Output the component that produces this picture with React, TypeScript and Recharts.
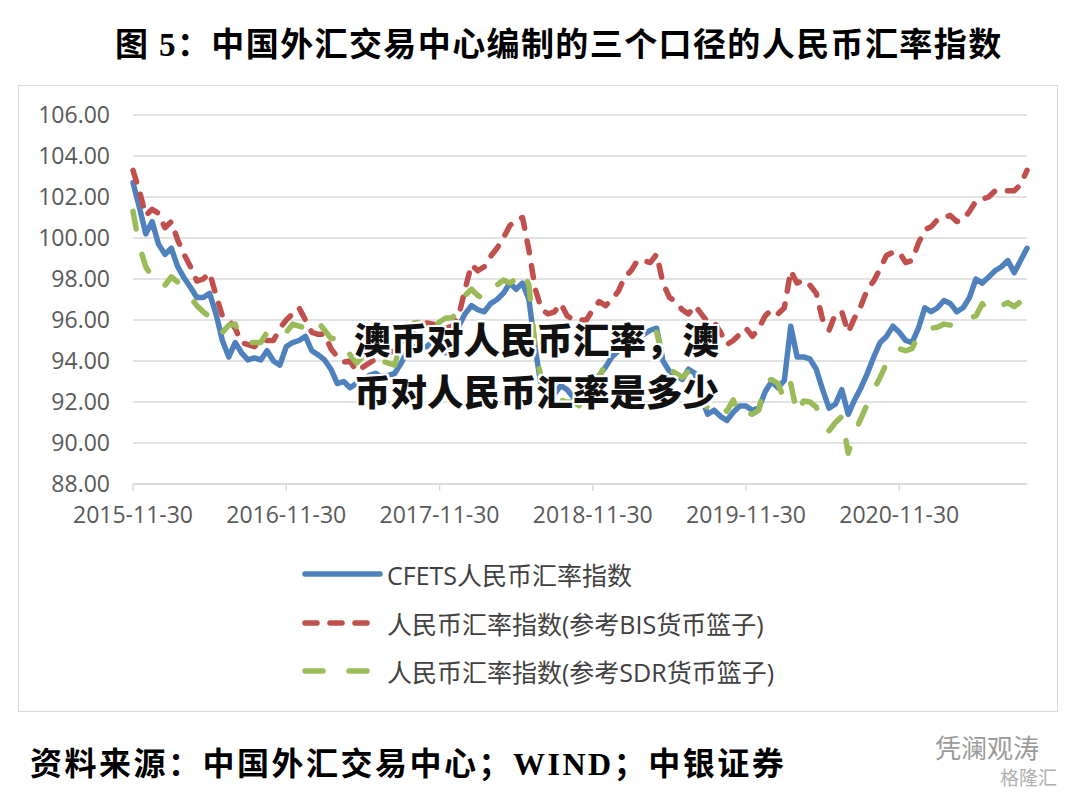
import React from "react";
import { LineChart, Line, XAxis, YAxis, CartesianGrid } from "recharts";

// semi-monthly observation dates
const dates = [
  "2015-11-30", "2015-12-15", "2015-12-31",
  "2016-01-15", "2016-01-31", "2016-02-15", "2016-02-29", "2016-03-15", "2016-03-31",
  "2016-04-15", "2016-04-30", "2016-05-15", "2016-05-31", "2016-06-15", "2016-06-30",
  "2016-07-15", "2016-07-31", "2016-08-15", "2016-08-31", "2016-09-15", "2016-09-30",
  "2016-10-15", "2016-10-31", "2016-11-15", "2016-11-30", "2016-12-15", "2016-12-31",
  "2017-01-15", "2017-01-31", "2017-02-15", "2017-02-28", "2017-03-15", "2017-03-31",
  "2017-04-15", "2017-04-30", "2017-05-15", "2017-05-31", "2017-06-15", "2017-06-30",
  "2017-07-15", "2017-07-31", "2017-08-15", "2017-08-31", "2017-09-15", "2017-09-30",
  "2017-10-15", "2017-10-31", "2017-11-15", "2017-11-30", "2017-12-15", "2017-12-31",
  "2018-01-15", "2018-01-31", "2018-02-15", "2018-02-28", "2018-03-15", "2018-03-31",
  "2018-04-15", "2018-04-30", "2018-05-15", "2018-05-31", "2018-06-15", "2018-06-30",
  "2018-07-15", "2018-07-31", "2018-08-15", "2018-08-31", "2018-09-15", "2018-09-30",
  "2018-10-15", "2018-10-31", "2018-11-15", "2018-11-30", "2018-12-15", "2018-12-31",
  "2019-01-15", "2019-01-31", "2019-02-15", "2019-02-28", "2019-03-15", "2019-03-31",
  "2019-04-15", "2019-04-30", "2019-05-15", "2019-05-31", "2019-06-15", "2019-06-30",
  "2019-07-15", "2019-07-31", "2019-08-15", "2019-08-31", "2019-09-15", "2019-09-30",
  "2019-10-15", "2019-10-31", "2019-11-15", "2019-11-30", "2019-12-15", "2019-12-31",
  "2020-01-15", "2020-01-31", "2020-02-15", "2020-02-29", "2020-03-15", "2020-03-31",
  "2020-04-15", "2020-04-30", "2020-05-15", "2020-05-31", "2020-06-15", "2020-06-30",
  "2020-07-15", "2020-07-31", "2020-08-15", "2020-08-31", "2020-09-15", "2020-09-30",
  "2020-10-15", "2020-10-31", "2020-11-15", "2020-11-30", "2020-12-15", "2020-12-31",
  "2021-01-15", "2021-01-31", "2021-02-15", "2021-02-28", "2021-03-15", "2021-03-31",
  "2021-04-15", "2021-04-30", "2021-05-15", "2021-05-31", "2021-06-15", "2021-06-30",
  "2021-07-15", "2021-07-31", "2021-08-15", "2021-08-31", "2021-09-15", "2021-09-30",
];

// CFETS人民币汇率指数
const cfets = [
  102.7, 101.5, 100.2, 100.8, 99.7, 99.2, 99.5, 98.6, 98.05, 97.6,
  97.1, 97.1, 97.3, 96.3, 95.0, 94.2, 94.9, 94.4, 94.05, 94.15,
  94.05, 94.5, 94.0, 93.8, 94.7, 94.9, 95.0, 95.2, 94.5, 94.3,
  94.05, 93.6, 92.9, 93.0, 92.7, 92.9, 93.0, 93.3, 93.4, 93.2,
  93.3, 93.4, 93.9, 94.5, 94.7, 94.7, 94.7, 95.0, 94.8, 94.4,
  95.0, 95.7, 96.3, 96.7, 96.5, 96.4, 96.8, 97.0, 97.3, 97.8,
  97.5, 97.8, 97.0, 94.6, 92.6, 93.1, 92.4, 92.8, 92.6, 92.2,
  92.2, 92.1, 92.6, 93.3, 93.7, 94.2, 94.5, 94.8, 95.0, 95.2,
  95.3, 95.5, 95.6, 94.0, 93.5, 93.3, 93.1, 93.6, 93.4, 92.2,
  91.4, 91.6, 91.3, 91.1, 91.5, 91.8, 91.8, 91.6, 91.7, 92.5,
  93.0, 92.7, 93.05, 95.7, 94.2, 94.2, 94.1, 93.6, 92.6, 91.7,
  91.9, 92.6, 91.4, 92.1, 92.7, 93.4, 94.2, 94.9, 95.2, 95.7,
  95.4, 95.0, 94.9, 95.6, 96.6, 96.4, 96.6, 96.95, 96.8, 96.4,
  96.6, 97.1, 98.0, 97.8, 98.1, 98.4, 98.6, 98.9, 98.3, 98.9,
  99.5,
];

// 人民币汇率指数(参考BIS货币篮子)
const bis = [
  103.3, 102.3, 101.1, 101.4, 101.2, 100.5, 100.8, 99.9, 99.2, 98.6,
  97.9, 98.0, 98.3, 97.2, 96.2, 96.0, 95.6, 94.9, 94.8, 94.7,
  95.0, 95.0, 95.0, 95.6, 96.0, 96.3, 96.6, 96.0, 95.4, 95.3,
  95.3, 94.6, 94.2, 93.95, 94.0, 93.5, 93.7, 93.9, 94.1, 94.2,
  94.4, 94.5, 94.8, 95.2, 95.4, 95.7, 95.85, 95.8, 95.7, 95.6,
  95.7, 96.2, 97.5, 98.7, 98.4, 98.6, 99.1, 99.5, 100.0, 100.6,
  100.9, 101.0, 99.4, 97.5, 96.5, 96.3, 96.4, 96.8, 96.2, 96.0,
  96.0, 96.0, 96.5, 96.9, 96.7, 97.0, 97.4, 98.1, 98.4, 98.9,
  98.9, 98.8, 99.2, 97.8, 97.1, 96.9, 96.5, 96.3, 96.7, 96.3,
  95.9, 95.9, 95.4, 94.8, 95.0, 95.3, 95.6, 95.2, 95.6, 96.2,
  96.5, 96.3, 96.6, 98.4, 97.8, 97.95, 97.7, 97.3, 96.0, 95.5,
  96.3, 96.4, 95.4, 96.1, 96.7, 97.5, 97.9, 98.5, 99.15, 99.3,
  99.3, 98.8, 98.9, 99.75, 100.4, 100.55, 100.9, 101.0, 101.1, 100.8,
  100.9, 101.3, 101.8, 101.9, 102.0, 102.3, 102.3, 102.3, 102.3, 102.6,
  103.3,
];

// 人民币汇率指数(参考SDR货币篮子)
const sdr = [
  101.3, 99.6, 98.6, 98.1, 97.6, 97.7, 98.1, 97.85, 97.4, 97.1,
  96.7, 96.4, 96.15, 95.5, 95.4, 95.75, 95.8, 95.0, 94.9, 94.9,
  94.9, 95.4, 95.4, 95.2, 95.4, 95.8, 95.7, 95.6, 95.5, 95.9,
  95.5, 95.1, 95.1, 95.0, 94.3, 93.9, 94.2, 94.0, 94.1, 94.0,
  93.9, 93.8, 95.0, 95.6, 95.85, 95.9, 96.0, 95.6, 95.9, 96.1,
  96.1, 96.5, 97.2, 97.5, 97.2, 97.0, 97.3, 97.7, 97.95, 97.8,
  98.0, 98.4, 97.7, 94.6, 93.0, 92.4, 92.1, 92.1, 92.0, 92.0,
  91.8, 92.2, 92.6, 93.2, 93.9, 94.2, 94.5, 94.8, 95.0, 95.2,
  95.3, 95.5, 95.4, 94.2, 93.6, 93.4, 93.2, 93.5, 93.4, 92.2,
  91.7, 91.6, 91.9, 91.55, 92.1, 91.3, 91.5, 91.4, 91.6, 93.0,
  93.1, 92.9, 92.1, 92.9, 91.4, 92.05, 92.0, 91.75, 90.95, 90.6,
  91.0, 91.3, 89.5, 90.5, 91.2, 91.9, 92.6, 93.2, 93.9, 94.4,
  94.6, 94.5, 94.6, 95.3, 95.5, 95.6, 95.65, 95.8, 95.75, 95.9,
  95.85, 96.1, 96.2, 96.8, 96.4, 96.6, 96.7, 96.85, 96.65, 96.9,
  97.5,
];

const yearTicks = ["2015-11-30", "2016-11-30", "2017-11-30", "2018-11-30", "2019-11-30", "2020-11-30"];
const yTicks = [88, 90, 92, 94, 96, 98, 100, 102, 104, 106];

const seriesNames = [
  "CFETS人民币汇率指数",
  "人民币汇率指数(参考BIS货币篮子)",
  "人民币汇率指数(参考SDR货币篮子)",
];

const data = dates.map((date, i) => ({
  date,
  cfets: cfets[i],
  bis: bis[i],
  sdr: sdr[i],
}));

const BLUE = "#4f81bd";
const RED = "#c0504d";
const GREEN = "#9bbb59";
const GRID = "#d9d9d9";
const RED_DASH = "12 13";
const GREEN_DASH = "18 26";
const LINE_W = 5.5;

const axisFont = { fontFamily: "'Open Sans', 'Noto Sans CJK SC', sans-serif", fontSize: 23, fill: "#595959" };

const legendRows = [
  { name: seriesNames[0], color: BLUE, dash: undefined, top: 574 },
  { name: seriesNames[1], color: RED, dash: RED_DASH, top: 623 },
  { name: seriesNames[2], color: GREEN, dash: GREEN_DASH, top: 671 },
];

export default function App() {
  return (
    <div
      style={{
        position: "absolute",
        left: 0,
        top: 0,
        width: 1076,
        height: 794,
        background: "#fff",
        overflow: "hidden",
      }}
    >
      <div
        style={{
          position: "absolute",
          left: 115,
          top: 18,
          fontFamily: "'Liberation Serif', 'Noto Sans CJK SC', serif",
          fontWeight: 700,
          fontSize: 33,
          whiteSpace: "nowrap",
          color: "#000",
          letterSpacing: 1.4,
        }}
      >
        图 5：中国外汇交易中心编制的三个口径的人民币汇率指数
      </div>

      <div
        style={{
          position: "absolute",
          left: 18,
          top: 85,
          width: 1040,
          height: 627,
          border: `1px solid ${GRID}`,
          boxSizing: "border-box",
        }}
      />

      <div style={{ position: "absolute", left: 0, top: 0 }}>
        <LineChart
          width={1076}
          height={794}
          data={data}
          margin={{ top: 115, right: 49, bottom: 270, left: 0 }}
        >
          <CartesianGrid vertical={false} stroke={GRID} strokeWidth={1.5} />
          <XAxis
            dataKey="date"
            ticks={yearTicks}
            interval={0}
            height={40}
            tick={axisFont}
            tickSize={7}
            tickMargin={16}
            axisLine={{ stroke: GRID, strokeWidth: 1.5 }}
            tickLine={{ stroke: GRID, strokeWidth: 1.5 }}
          />
          <YAxis
            domain={[88, 106]}
            ticks={yTicks}
            width={133}
            tick={axisFont}
            tickSize={0}
            tickMargin={23}
            axisLine={false}
            tickLine={false}
            tickFormatter={(v) => Number(v).toFixed(2)}
          />
          <Line
            dataKey="cfets"
            name={seriesNames[0]}
            type="linear"
            stroke={BLUE}
            strokeWidth={LINE_W}
            strokeLinecap="round"
            strokeLinejoin="round"
            dot={false}
            isAnimationActive={false}
          />
          <Line
            dataKey="bis"
            name={seriesNames[1]}
            type="linear"
            stroke={RED}
            strokeWidth={LINE_W}
            strokeDasharray={RED_DASH}
            strokeLinecap="round"
            strokeLinejoin="round"
            dot={false}
            isAnimationActive={false}
          />
          <Line
            dataKey="sdr"
            name={seriesNames[2]}
            type="linear"
            stroke={GREEN}
            strokeWidth={LINE_W}
            strokeDasharray={GREEN_DASH}
            strokeLinecap="round"
            strokeLinejoin="round"
            dot={false}
            isAnimationActive={false}
          />
        </LineChart>
      </div>

      {legendRows.map((r) => (
        <div
          key={r.name}
          style={{
            position: "absolute",
            left: 300,
            top: r.top - 17,
            height: 34,
            display: "flex",
            alignItems: "center",
            whiteSpace: "nowrap",
          }}
        >
          <svg width={86} height={34}>
            <line
              x1={5}
              y1={17}
              x2={80}
              y2={17}
              stroke={r.color}
              strokeWidth={LINE_W}
              strokeLinecap="round"
              strokeDasharray={r.dash}
            />
          </svg>
          <span
            style={{
              fontFamily: "'Open Sans', 'Noto Sans CJK SC', sans-serif",
              fontSize: 25,
              color: "#404040",
              marginLeft: 1,
            }}
          >
            {r.name}
          </span>
        </div>
      ))}

      <div
        style={{
          position: "absolute",
          left: 354,
          top: 313,
          fontFamily: "'Noto Sans CJK SC', sans-serif",
          fontWeight: 900,
          fontSize: 36.5,
          lineHeight: "52px",
          color: "#111",
          whiteSpace: "nowrap",
          textShadow:
            "2px 0 0 #fff, -2px 0 0 #fff, 0 2px 0 #fff, 0 -2px 0 #fff, 2px 2px 0 #fff, -2px -2px 0 #fff, 2px -2px 0 #fff, -2px 2px 0 #fff",
        }}
      >
        <div>澳币对人民币汇率，澳</div>
        <div>币对人民币汇率是多少</div>
      </div>

      <div
        style={{
          position: "absolute",
          left: 30,
          top: 738,
          fontFamily: "'Liberation Serif', 'Noto Sans CJK SC', serif",
          fontWeight: 700,
          fontSize: 32,
          whiteSpace: "nowrap",
          color: "#000",
          letterSpacing: 2.5,
        }}
      >
        资料来源：中国外汇交易中心；WIND；中银证券
      </div>

      <div
        style={{
          position: "absolute",
          left: 935,
          top: 728,
          fontFamily: "'Noto Sans CJK SC', sans-serif",
          fontSize: 26,
          color: "#9a9a9a",
          whiteSpace: "nowrap",
        }}
      >
        凭澜观涛
      </div>
      <div
        style={{
          position: "absolute",
          left: 1000,
          top: 763,
          fontFamily: "'Noto Sans CJK SC', sans-serif",
          fontSize: 19,
          color: "#b0b0b0",
          whiteSpace: "nowrap",
        }}
      >
        格隆汇
      </div>
    </div>
  );
}
